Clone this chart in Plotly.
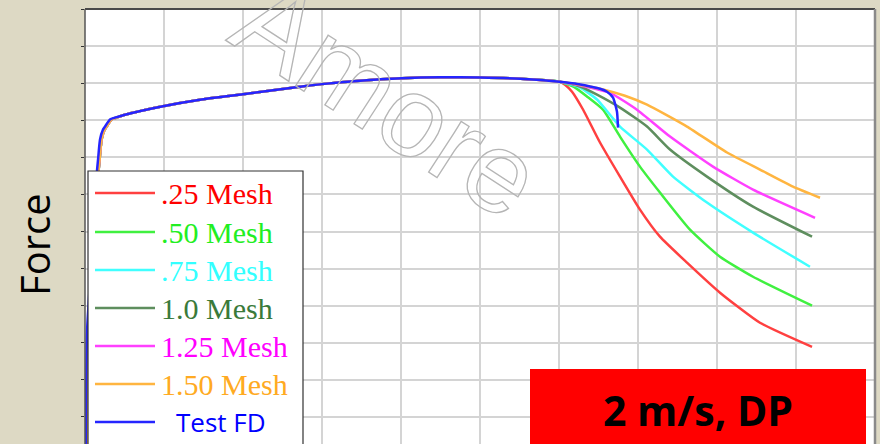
import plotly.graph_objects as go

# ---- data (x: displacement, y: force; arbitrary units, no tick labels shown) ----
common_x = [0.1, 0.25, 0.9, 1.52, 1.65, 1.9, 2.28, 2.53, 3.16, 3.8, 5.06, 9.87, 14.56, 20.0, 27.2, 30.0, 34.8, 40.1, 44.9, 50.0, 55.1, 60.1]
common_y = [0.0, 32.7, 55.1, 76.4, 79.4, 84.8, 87.5, 88.3, 90.2, 90.7, 91.5, 93.8, 95.55, 97.04, 99.06, 99.74, 100.68, 101.35, 101.6, 101.55, 101.2, 100.4]

mesh_names = [".25 Mesh", ".50 Mesh", ".75 Mesh", "1.0 Mesh", "1.25 Mesh", "1.50 Mesh"]
mesh_tail_x = [
    [60.76, 61.65, 63.04, 65.19, 67.72, 70.25, 72.78, 76.2, 80.38, 85.44, 92.03],
    [62.03, 63.54, 65.57, 67.72, 70.25, 72.78, 76.58, 80.38, 84.56, 92.03],
    [62.66, 64.81, 67.72, 71.14, 74.43, 78.73, 84.56, 91.77],
    [62.66, 64.81, 67.72, 71.14, 74.05, 78.73, 84.56, 92.03],
    [63.29, 66.46, 69.87, 74.05, 79.49, 84.56, 92.41],
    [63.29, 65.57, 68.35, 71.14, 76.2, 81.27, 85.44, 89.62, 93.04],
]
mesh_tail_y = [
    [99.6, 97.7, 92.9, 84.0, 74.8, 65.9, 58.6, 51.6, 43.5, 35.4, 28.9],
    [98.8, 96.4, 92.85, 85.6, 77.5, 70.5, 60.5, 53.2, 47.8, 40.0],
    [98.8, 95.6, 88.3, 82.1, 74.8, 67.8, 59.7, 50.5],
    [99.1, 96.9, 93.4, 88.3, 82.1, 74.8, 66.7, 58.6],
    [99.1, 97.4, 92.85, 85.6, 77.5, 71.3, 63.7],
    [99.3, 98.3, 96.6, 94.2, 88.3, 81.3, 76.7, 72.1, 69.1],
]
mesh_line_colors = ["#FF4040", "#40F040", "#40FFFF", "#5E8E5E", "#FF40FF", "#FFB540"]
mesh_text_colors = ["#FF0000", "#22EE22", "#33FFFF", "#3A7A3A", "#FF00FF", "#FFAA22"]

test_name = "Test FD"
test_tail_x = [62.03, 63.92, 65.19, 66.08, 66.84, 67.34, 67.47]
test_tail_y = [99.9, 99.1, 98.5, 97.7, 96.1, 92.3, 88.0]
test_line_color = "#2525FF"
test_text_color = "#0000FF"

y_label = "Force"
badge_text = "2 m/s, DP"
watermark = "Amore"

fig = go.Figure()
for name, tx, ty, col in zip(mesh_names, mesh_tail_x, mesh_tail_y, mesh_line_colors):
    cx = [v + (0.2 if v < 5 else 0.0) for v in common_x]
    fig.add_trace(go.Scatter(x=cx + tx, y=common_y + ty, mode="lines", name=name,
                             line=dict(color=col, width=2.5, shape="spline", smoothing=0.5),
                             showlegend=False))
fig.add_trace(go.Scatter(x=common_x + test_tail_x, y=common_y + test_tail_y, mode="lines",
                         name=test_name,
                         line=dict(color=test_line_color, width=2.5, shape="spline", smoothing=0.5),
                         showlegend=False))

W, H = 880, 444
L, R, T, B = 85, 5, 9, 0
pw, ph = W - L - R, H - T - B


def px(xp):
    return (xp - L) / pw


def py(yp):
    return (H - B - yp) / ph


shapes = []
annotations = []
# borders
shapes.append(dict(type="line", xref="paper", yref="paper", x0=0, x1=1, y0=1, y1=1,
                   line=dict(color="#4a4a4a", width=2), layer="above"))
shapes.append(dict(type="line", xref="paper", yref="paper", x0=0, x1=0, y0=-0.02, y1=1,
                   line=dict(color="#555555", width=1.5), layer="above"))
shapes.append(dict(type="line", xref="paper", yref="paper", x0=1, x1=1, y0=-0.02, y1=1,
                   line=dict(color="#8a8a8a", width=2.5), layer="above"))

# legend box
shapes.append(dict(type="rect", xref="paper", yref="paper", x0=px(88), x1=px(303), y0=-0.05, y1=py(171),
                   fillcolor="white", line=dict(color="#333333", width=1.2), layer="above"))
row_y = [193, 232, 270, 308, 346, 384, 422]
for i, (name, lc, tc) in enumerate(zip(mesh_names, mesh_line_colors, mesh_text_colors)):
    yy = py(row_y[i])
    shapes.append(dict(type="line", xref="paper", yref="paper", x0=px(95), x1=px(155), y0=yy, y1=yy,
                       line=dict(color=lc, width=2.5), layer="above"))
    annotations.append(dict(text=name, xref="paper", yref="paper", x=px(159), y=yy, xanchor="left",
                            yanchor="middle", showarrow=False,
                            font=dict(family="Liberation Serif", size=30, color=tc)))
yy = py(row_y[6])
shapes.append(dict(type="line", xref="paper", yref="paper", x0=px(95), x1=px(155), y0=yy, y1=yy,
                   line=dict(color=test_line_color, width=2.5), layer="above"))
annotations.append(dict(text=test_name, xref="paper", yref="paper", x=px(174), y=yy, xanchor="left",
                        yanchor="middle", showarrow=False,
                        font=dict(family="Open Sans", size=26, color=test_text_color)))

# red badge
shapes.append(dict(type="rect", xref="paper", yref="paper", x0=px(530), x1=px(866), y0=-0.05, y1=py(369),
                   fillcolor="#FF0000", line=dict(width=0), layer="above"))
annotations.append(dict(text="<b>" + badge_text + "</b>", xref="paper", yref="paper", x=px(698), y=py(410),
                        xanchor="center", yanchor="middle", showarrow=False,
                        font=dict(family="Open Sans", size=41, color="black")))

# y label
annotations.append(dict(text=y_label, xref="paper", yref="paper", x=px(34), y=py(245), xanchor="center",
                        yanchor="middle", showarrow=False, textangle=-90,
                        font=dict(family="Open Sans", size=40, color="black")))

# watermark (outlined text)
annotations.append(dict(text=watermark, xref="paper", yref="paper", x=px(388), y=py(98), xanchor="center",
                        yanchor="middle", showarrow=False, textangle=33, name="watermark",
                        font=dict(family="Liberation Sans", size=114, color="#bdbdbd")))

fig.update_layout(
    width=W, height=H,
    margin=dict(l=L, r=R, t=T, b=B),
    paper_bgcolor="#DDD9C4",
    plot_bgcolor="white",
    showlegend=False,
    shapes=shapes,
    annotations=annotations,
    xaxis=dict(range=[0, 100], dtick=10, showgrid=True, gridcolor="#D4D4D4", gridwidth=1.5,
               zeroline=False, showticklabels=False, ticks="", showline=False, fixedrange=True),
    yaxis=dict(range=[2.7, 120], tick0=0, dtick=10, showgrid=True, gridcolor="#D4D4D4", gridwidth=1.5,
               zeroline=False, showticklabels=False, ticks="outside", ticklen=3, tickcolor="#333333",
               tickwidth=1, showline=False, fixedrange=True),
)

post = """
document.body.style.margin = '0';
document.body.style.overflow = 'hidden';
var gd = document.getElementById('{plot_id}');
gd.querySelectorAll('text.annotation-text').forEach(function(t){
  if (t.textContent === 'Amore') {
    t.style.fill = 'none';
    t.style.stroke = '#b5b5b5';
    t.style.strokeWidth = '1.3px';
  }
});
"""

fig.write_html("out.html", post_script=post, config={"displayModeBar": False})
